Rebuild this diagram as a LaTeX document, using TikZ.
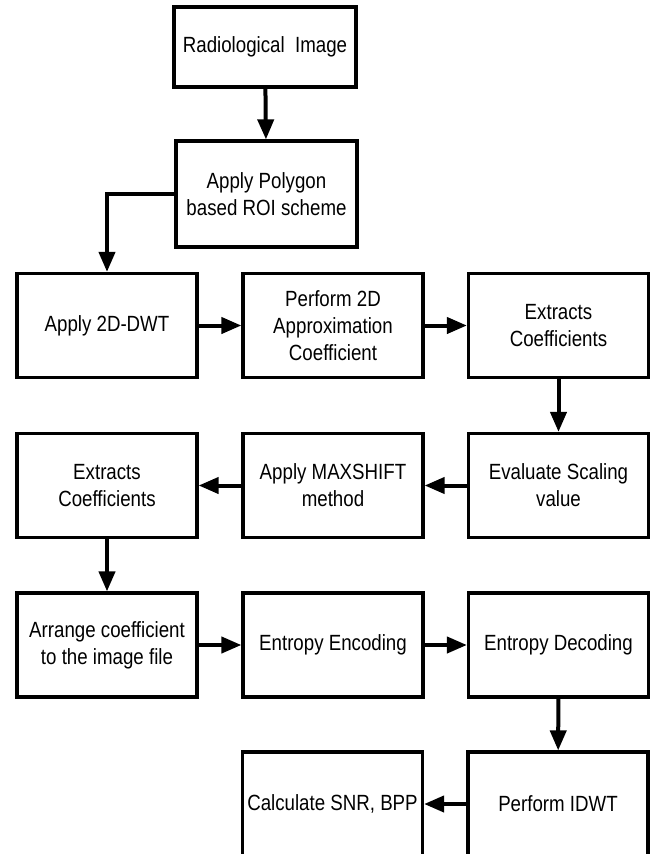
\documentclass[tikz,border=0pt]{standalone}
\usepackage{fontspec}
\setmainfont[FakeStretch=0.85]{Liberation Sans}
\usetikzlibrary{arrows.meta}
\tikzset{
  procbox/.style = {draw=black, line width=3.2pt, align=center, inner sep=0pt,
    minimum width=180pt, minimum height=104pt,
    font=\fontsize{22}{27}\selectfont},% ordinary step
  topbox/.style = {procbox, minimum width=182pt, minimum height=80pt},% input
  flow/.style = {->, line width=4pt}
}
\begin{document}
\begin{tikzpicture}[x=1pt, y=-1pt,
    >={Triangle[length=20pt, width=16pt]}]
    \useasboundingbox (0,0) rectangle (655,854);
    \node [topbox] (radio) at (265,47) {Radiological~~Image};
    \node [procbox, minimum width=181pt, minimum height=106pt] (roi) at (266.5,194)
        {Apply Polygon\\based ROI scheme};
    \node [procbox] (dwt) at (107,325.5) {Apply 2D-DWT};
    \node [procbox] (approx) at (333,325.5) {Perform 2D\\Approximation\\Coefficient};
    \node [procbox] (extr1) at (558.5,325.5) {Extracts\\Coefficients};
    \node [procbox] (scal) at (558.5,485.5) {Evaluate Scaling\\value};
    \node [procbox] (maxs) at (333,485.5) {Apply MAXSHIFT\\method};
    \node [procbox] (extr2) at (107,485.5) {Extracts\\Coefficients};
    \node [procbox] (arr) at (107,645) {Arrange coefficient\\to the image file};
    \node [procbox] (enc) at (333,645) {Entropy Encoding};
    \node [procbox] (dec) at (558.5,645) {Entropy Decoding};
    \node [procbox] (idwt) at (558,804) {Perform IDWT};
    \node [procbox] (snr) at (332.5,804) {Calculate SNR, BPP};
    \draw [flow] (radio) -- (roi);
    \draw [flow] (roi.west) -| (dwt.north);
    \draw [flow] (dwt) -- (approx);
    \draw [flow] (approx) -- (extr1);
    \draw [flow] (extr1) -- (scal);
    \draw [flow] (scal) -- (maxs);
    \draw [flow] (maxs) -- (extr2);
    \draw [flow] (extr2) -- (arr);
    \draw [flow] (arr) -- (enc);
    \draw [flow] (enc) -- (dec);
    \draw [flow] (dec) -- (idwt);
    \draw [flow] (idwt) -- (snr);
\end{tikzpicture}
\end{document}
